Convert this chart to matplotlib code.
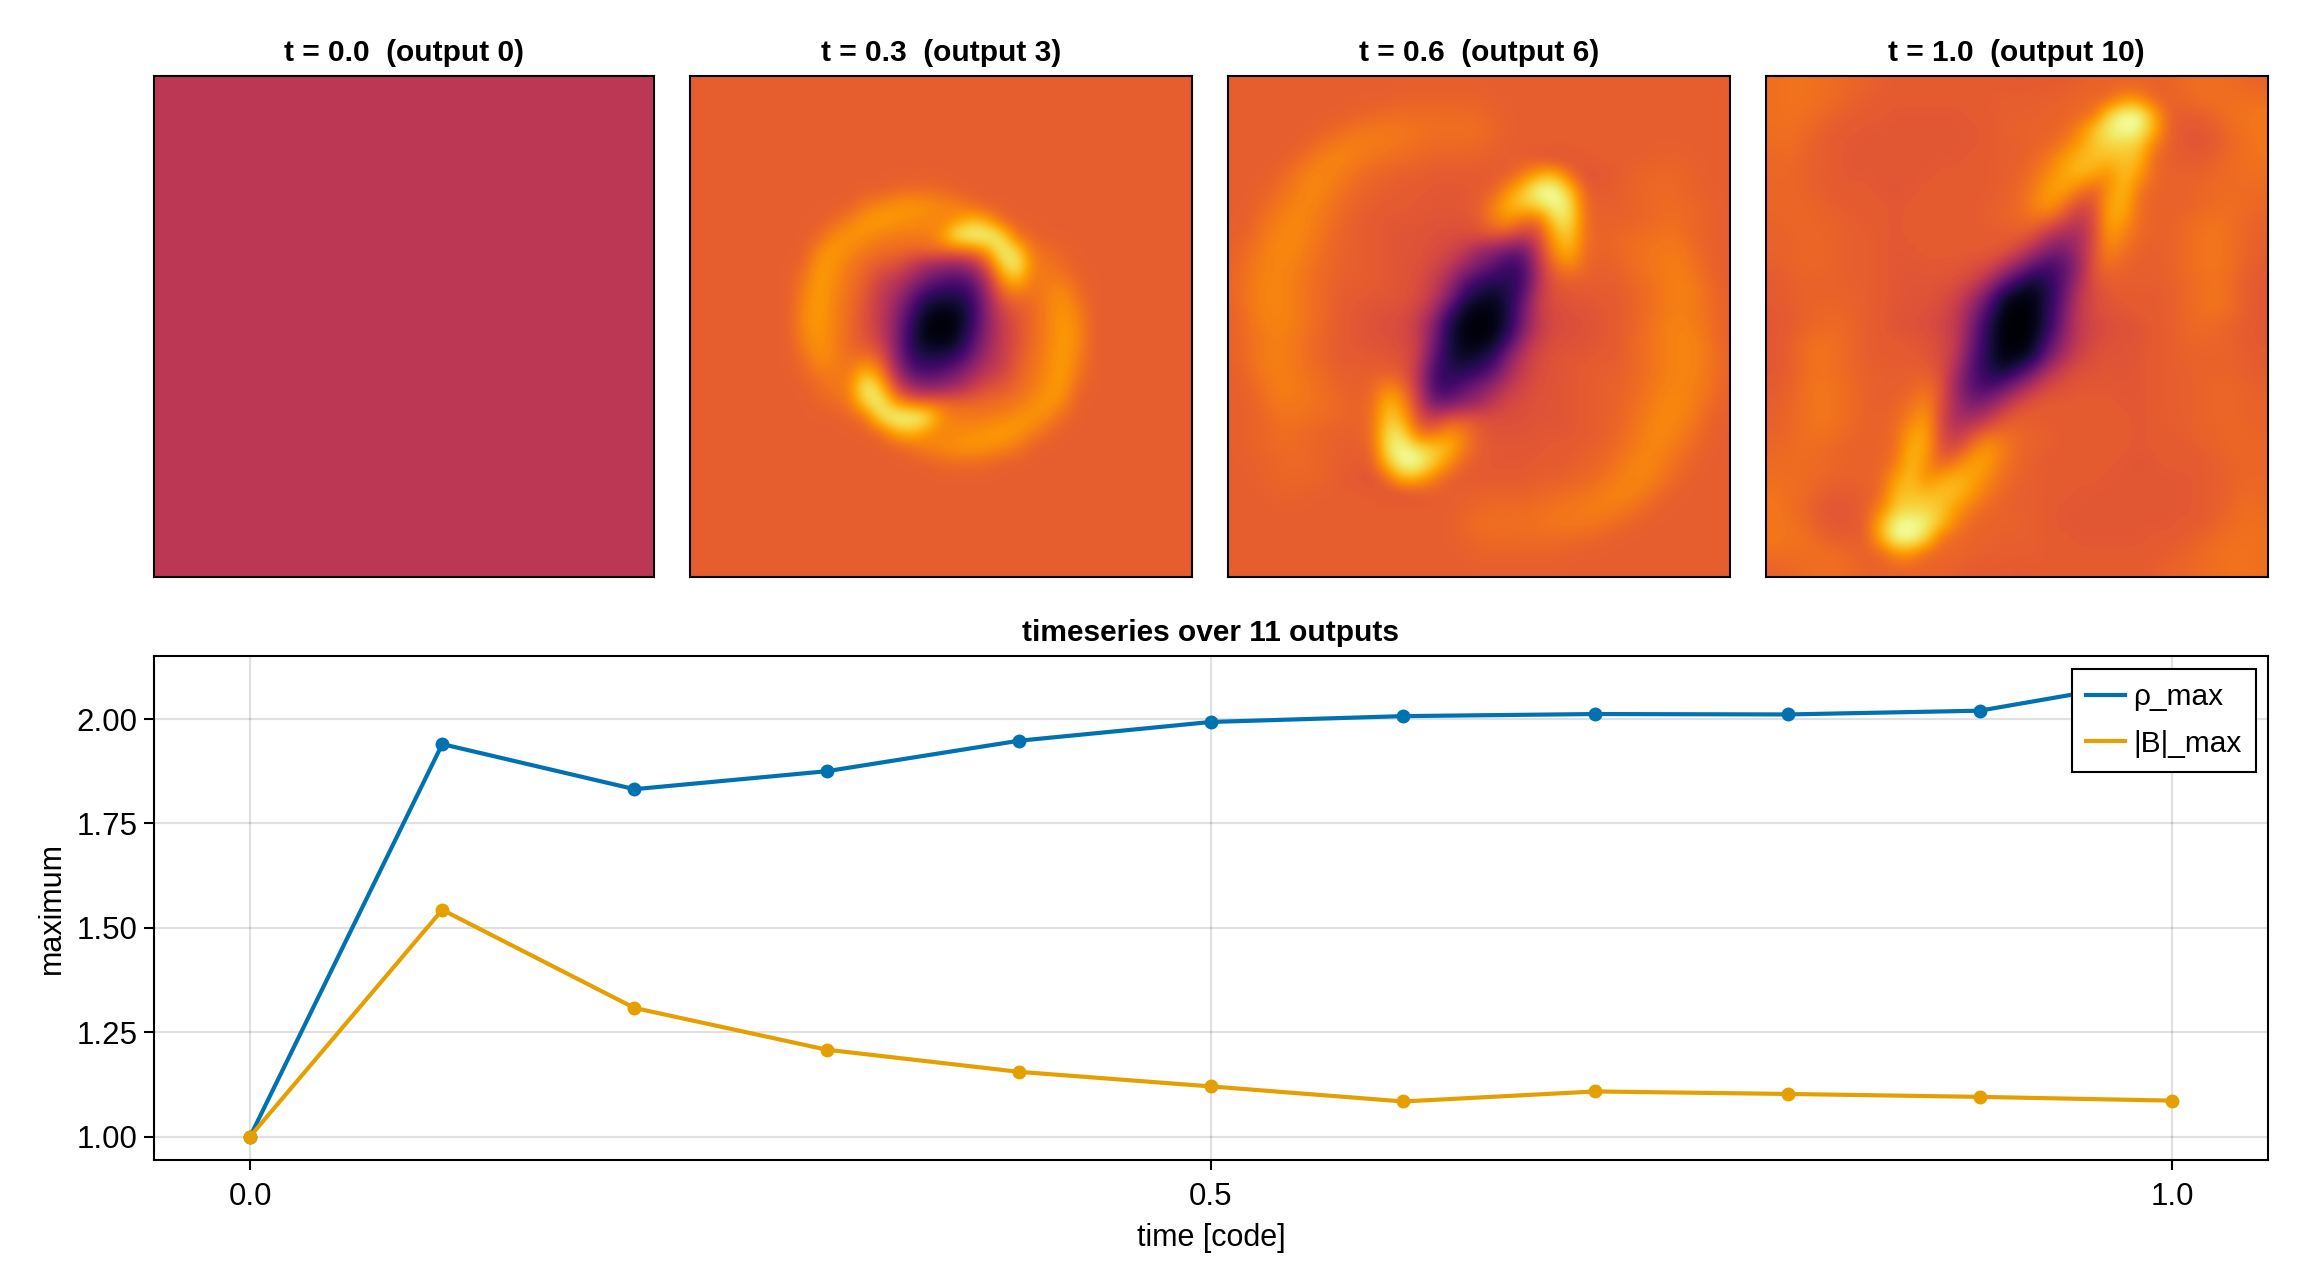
import numpy as np
import matplotlib
matplotlib.use("Agg")
import matplotlib.pyplot as plt

plt.rcParams["font.family"] = ["Liberation Sans", "DejaVu Sans"]

W, H = 2300, 1280

# Time series
times = [0.0, 0.1, 0.2, 0.3, 0.4, 0.5, 0.6, 0.7, 0.8, 0.9, 1.0]
rho_max = [1.0, 1.94, 1.832, 1.875, 1.948, 1.993, 2.007, 2.012, 2.011, 2.02, 2.10]
b_max = [1.0, 1.543, 1.308, 1.208, 1.155, 1.12, 1.084, 1.108, 1.102, 1.095, 1.086]
y_ticks = [1.0, 1.25, 1.5, 1.75, 2.0]
y_tick_labels = ["1.00", "1.25", "1.50", "1.75", "2.00"]
x_ticks = [0.0, 0.5, 1.0]
x_tick_labels = ["0.0", "0.5", "1.0"]
titles = ["t = 0.0  (output 0)", "t = 0.3  (output 3)",
          "t = 0.6  (output 6)", "t = 1.0  (output 10)"]

# Density snapshots, percent of the colour range. The flow is point symmetric,
# so each field keeps its upper half and its centre row.
uniform_level = 50
ambient_level = 64

core_t03 = [
    [64,64,64,64,64,64,66,67,67,66,64,64,64,64,64,64,64,64,64],
    [64,64,64,64,70,73,76,77,76,74,72,67,64,64,64,64,64,64,64],
    [64,64,66,72,77,79,77,75,74,72,76,84,80,66,64,64,64,64,64],
    [64,66,74,77,76,72,71,71,71,76,96,100,100,92,68,65,64,64,64],
    [64,74,78,74,70,68,67,66,66,68,68,70,78,98,90,70,67,65,64],
    [66,78,76,70,67,62,60,52,44,40,38,44,60,88,98,72,70,67,64],
    [70,79,74,69,64,55,50,42,32,25,22,27,48,74,84,70,71,71,66],
    [72,79,73,68,62,52,45,30,16,12,12,18,40,64,68,68,72,76,68],
    [74,79,72,67,60,52,40,22,6,3,4,14,38,55,62,66,72,77,72],
    [74,78,72,67,60,52,38,16,3,0,3,16,38,52,60,67,72,78,74],
]

half_t06 = [
    [64,64,64,64,64,64,64,64,64,64,64,64,64,64,64,64,64,64,64,64,64,64,64,64,64,64,64,64,64,64,64,64,64],
    [64,64,64,64,64,64,64,64,64,64,64,65,65,65,65,65,65,64,64,64,64,64,64,64,64,64,64,64,64,64,64,64,64],
    [64,64,64,64,64,64,64,64,65,66,67,67,67,67,67,67,66,65,64,64,64,64,64,64,64,64,64,64,64,64,64,64,64],
    [64,64,64,64,64,64,65,67,69,70,70,70,69,68,68,68,68,66,64,64,64,64,64,64,64,64,64,64,64,64,64,64,64],
    [64,64,64,64,64,66,69,71,72,71,70,69,68,67,67,67,66,65,64,64,64,64,64,64,64,64,64,64,64,64,64,64,64],
    [64,64,64,64,66,70,73,73,71,69,68,67,66,65,65,65,65,64,64,63,62,60,61,63,64,64,64,64,65,65,64,64,64],
    [64,64,64,66,70,73,73,71,68,66,65,64,64,63,63,63,63,63,64,72,82,84,68,60,62,63,65,66,66,66,65,64,64],
    [64,64,65,68,71,74,72,69,66,65,64,63,63,62,62,62,63,65,76,88,100,100,86,64,63,64,65,66,67,66,65,64,64],
    [64,64,67,70,73,73,70,67,65,64,63,63,62,62,62,62,64,72,84,88,92,99,94,66,64,64,65,66,67,67,66,65,64],
    [64,65,69,72,74,72,69,66,64,63,62,62,62,61,61,61,63,72,76,68,68,92,93,68,64,65,65,66,67,68,66,65,64],
    [64,66,71,73,74,71,68,65,64,63,62,61,61,60,59,59,60,62,60,52,60,82,88,68,65,66,67,68,69,69,66,65,64],
    [65,68,72,74,73,70,67,65,64,63,62,61,61,59,57,52,42,38,30,32,55,76,84,67,65,66,68,69,70,71,68,65,64],
    [65,70,72,73,72,69,66,65,64,63,62,61,60,57,52,42,34,26,18,22,52,68,74,66,64,65,67,69,71,72,69,66,64],
    [66,70,73,73,71,68,66,64,64,63,62,61,59,54,44,28,18,14,14,22,50,62,64,64,64,64,66,68,70,72,71,67,64],
    [66,71,73,73,71,68,66,63,63,62,62,61,58,52,38,16,9,6,12,28,54,60,62,62,63,63,65,67,70,72,72,68,65],
    [65,70,73,73,71,68,66,63,62,61,60,59,55,45,22,6,2,3,12,34,54,58,60,61,62,63,65,67,70,72,71,68,65],
    [65,69,72,73,71,68,65,63,62,60,59,58,52,36,12,3,0,3,12,36,52,58,59,60,62,63,65,68,71,73,72,69,65],
]

half_t10 = [
    [68,69,69,68,67,66,65,64,63,63,63,63,63,63,63,63,62,63,63,63,64,65,65,65,65,65,65,67,68,68,67,66,65],
    [68,69,69,68,67,65,64,63,63,63,63,63,63,63,63,64,64,64,64,65,66,66,66,76,74,65,65,66,68,68,68,68,68],
    [68,69,68,67,65,64,63,63,62,62,62,62,62,63,63,64,64,64,65,65,66,68,90,99,99,80,64,64,64,66,69,69,70],
    [68,68,67,65,63,63,62,62,62,62,62,62,62,62,63,64,65,65,65,66,72,86,96,100,98,82,64,62,62,64,67,69,70],
    [67,68,66,64,63,62,62,62,62,62,62,62,62,62,63,64,64,65,66,70,78,86,90,90,88,72,64,62,61,63,66,68,70],
    [66,67,65,64,63,62,62,62,62,62,62,62,62,63,63,64,64,66,70,78,84,86,84,86,84,66,64,63,63,65,67,68,69],
    [66,66,65,64,63,62,62,62,62,62,62,63,63,63,63,64,65,68,74,80,84,80,74,86,78,66,65,65,65,66,67,68,68],
    [66,66,65,64,63,63,63,62,61,62,63,63,63,63,63,64,66,70,78,80,72,64,76,85,70,65,65,65,66,67,67,67,67],
    [66,66,66,65,64,63,63,63,62,63,63,63,63,63,64,65,66,72,78,70,58,60,80,83,67,65,65,65,66,67,68,67,66],
    [65,66,66,65,65,64,63,63,62,63,63,63,63,63,64,65,66,68,66,58,50,58,81,78,67,65,65,66,68,69,68,66,65],
    [65,65,66,66,65,64,64,63,62,63,63,63,63,63,63,63,64,60,50,44,44,58,78,72,66,65,65,67,69,70,68,66,64],
    [65,65,66,66,65,64,64,63,62,62,63,63,63,63,63,62,56,46,36,32,44,60,74,68,65,64,65,67,69,70,68,65,64],
    [64,65,66,66,65,64,64,63,62,62,62,62,62,60,58,50,40,28,20,26,40,62,68,65,64,64,65,67,69,70,68,65,63],
    [63,64,65,65,65,64,64,63,62,61,62,61,60,56,48,32,18,8,15,25,45,60,64,64,64,64,65,66,68,69,67,64,62],
    [63,64,65,65,65,65,64,63,62,61,61,59,56,46,32,10,3,3,12,28,50,58,62,63,63,63,64,66,68,70,67,64,62],
    [62,63,65,66,66,65,64,63,61,61,60,58,52,40,22,4,0,2,14,32,52,58,61,62,63,63,64,66,68,69,67,64,62],
    [62,63,65,66,67,66,64,63,61,60,59,56,52,35,14,2,0,2,14,35,52,56,59,60,61,63,64,66,67,66,65,63,62],
]


def mirrored(upper_rows):
    """Complete a field from its upper rows using point symmetry."""
    upper = np.array(upper_rows, dtype=float)
    return np.vstack([upper, upper[-2::-1, ::-1]]) / 100.0


def embedded(core_rows, size, level):
    """Place a centred patch on a uniform background."""
    core = mirrored(core_rows)
    field = np.full((size, size), level / 100.0)
    r0 = (size - core.shape[0]) // 2
    c0 = (size - core.shape[1]) // 2
    field[r0:r0 + core.shape[0], c0:c0 + core.shape[1]] = core
    return field


fields = [
    np.full((33, 33), uniform_level / 100.0),
    embedded(core_t03, 33, ambient_level),
    mirrored(half_t06),
    mirrored(half_t10),
]


def axes_px(left, top, right, bottom):
    return fig.add_axes([left / W, 1 - bottom / H, (right - left) / W, (bottom - top) / H])


fig = plt.figure(figsize=(W / 100, H / 100), dpi=100, facecolor="white")

panel_edges = [(154, 654), (690, 1192), (1228, 1730), (1765.5, 2268)]
for (left, right), field, title in zip(panel_edges, fields, titles):
    ax = axes_px(left, 76, right, 577)
    ax.imshow(field, cmap="inferno", vmin=0, vmax=1, interpolation="bicubic",
              origin="upper", aspect="auto")
    ax.set_xticks([])
    ax.set_yticks([])
    for spine in ax.spines.values():
        spine.set_linewidth(1.5)
    ax.set_title(title, fontsize=21.5, fontweight="bold", pad=10.5)

ax = axes_px(154, 656, 2268, 1159.5)
ax.plot(times, rho_max, color="#0072B2", lw=3, marker="o", ms=9, label="ρ_max", zorder=3)
ax.plot(times, b_max, color="#E69F00", lw=3, marker="o", ms=9, label="|B|_max", zorder=4)
ax.set_xlim(-0.05, 1.05)
ax.set_ylim(0.945, 2.151)
ax.set_xticks(x_ticks, x_tick_labels)
ax.set_yticks(y_ticks, y_tick_labels)
ax.grid(True, color="black", alpha=0.12, lw=1.6)
ax.set_axisbelow(True)
ax.tick_params(labelsize=22.5, length=7, width=1.5)
ax.tick_params(axis="x", pad=9)
ax.tick_params(axis="y", pad=5)
for spine in ax.spines.values():
    spine.set_linewidth(1.5)
ax.set_xlabel("time [code]", fontsize=22, labelpad=8)
ax.set_ylabel("maximum", fontsize=22, labelpad=7)
ax.set_title("timeseries over 11 outputs", fontsize=21.5, fontweight="bold", pad=10.5)

handles = [plt.Line2D([], [], color=c, lw=3) for c in ("#0072B2", "#E69F00")]
legend = ax.legend(handles, ["ρ_max", "|B|_max"], loc="upper right",
                   bbox_to_anchor=((2256 - 154) / 2114, (1159.5 - 669) / 503.5),
                   borderaxespad=0, fontsize=21.5, frameon=True, fancybox=False,
                   framealpha=1, edgecolor="black", handlelength=1.3,
                   handletextpad=0.3, labelspacing=0.62, borderpad=0.47)
legend.get_frame().set_linewidth(1.5)
legend.set_zorder(10)

fig.savefig("out.png", dpi=100)
